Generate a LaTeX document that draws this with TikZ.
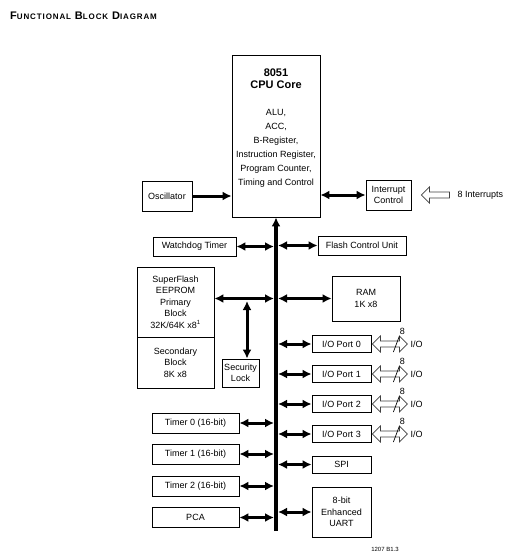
\documentclass[tikz,border=0pt]{standalone}
\usepackage{fontspec}
\setmainfont{Liberation Sans}
\newfontfamily\titlefont[LetterSpace=11]{Liberation Sans}
\usetikzlibrary{arrows.meta}
\tikzset{>={Latex[width=9pt,length=9pt]}}
\tikzset{
  blk/.style={draw, line width=0.8pt, align=center, inner sep=0pt,
    font=\fontsize{9}{11.5}\selectfont},
  link/.style={<->, line width=3pt},
  hollow/.style={draw=black!75, fill=white, line width=0.7pt, line join=miter},
  small/.style={inner sep=0pt, font=\fontsize{9}{11}\selectfont},
}

\begin{document}
\begin{tikzpicture}[x=1pt,y=-1pt]

  \newcommand\BigC[1]{{\fontsize{11}{12}\selectfont #1}}
  \newcommand\SmC[1]{{\fontsize{8}{9}\selectfont #1}}
  \newcommand\ioarrow[1]{%
    \draw[hollow] (#1.east) ++(1,0) -- ++(8,-8) -- ++(0,5) -- ++(19,0)
      -- ++(0,-5) -- ++(8,8) -- ++(-8,8) -- ++(0,-5) -- ++(-19,0)
      -- ++(0,5) -- cycle;
    \draw[line width=0.7pt] ([shift={(22,8)}]#1.east) -- ++(6,-16);
    \node[small] (#1w) at ([shift={(31,-13)}]#1.east) {8};
    \node[small, anchor=west] (#1io) at ([shift={(39,0)}]#1.east) {I/O};
  }

  \useasboundingbox (0,0) rectangle (521,557);

  \node[anchor=base west, inner sep=0pt, font=\titlefont\bfseries] (title) at (10,19)
    {\BigC{F}\SmC{UNCTIONAL} \BigC{B}\SmC{LOCK} \BigC{D}\SmC{IAGRAM}};

  % core
  \node[blk, minimum width=88pt, minimum height=162pt] (cpu) at (276,136) {};
  \node[align=center, inner sep=0pt, font=\bfseries\fontsize{11}{12}\selectfont]
    (cpuname) at (276,79) {8051\\CPU Core};
  \node[align=center, inner sep=0pt, font=\fontsize{9}{14}\selectfont]
    (cpulist) at (276,148) {ALU,\\ACC,\\B-Register,\\Instruction Register,\\Program Counter,\\Timing and Control};

  \node[blk, minimum width=50pt, minimum height=30pt] (osc) at (167,196) {Oscillator};
  \node[blk, minimum width=45pt, minimum height=30pt] (intc) at (388.5,195) {Interrupt\\Control};

  % left side
  \node[blk, minimum width=83pt, minimum height=19pt] (wdt) at (194.5,246.5) {Watchdog Timer};
  \node[blk, minimum width=77pt, minimum height=70pt] (prim) at (175.5,302)
    {SuperFlash\\EEPROM\\Primary\\Block\\32K/64K x8\textsuperscript{1}};
  \node[blk, minimum width=77pt, minimum height=51pt] (sec) at (175.5,362.5) {Secondary\\Block\\8K x8};
  \node[blk, minimum width=37pt, minimum height=28pt] (lock) at (240.5,373) {Security\\Lock};
  \node[blk, minimum width=87pt, minimum height=20pt] (tim0) at (195.5,423) {Timer 0 (16-bit)};
  \node[blk, minimum width=87pt, minimum height=20pt] (tim1) at (195.5,454) {Timer 1 (16-bit)};
  \node[blk, minimum width=87pt, minimum height=20pt] (tim2) at (195.5,486) {Timer 2 (16-bit)};
  \node[blk, minimum width=87pt, minimum height=20pt] (pca) at (195.5,517.5) {PCA};

  % right side
  \node[blk, minimum width=88pt, minimum height=19pt] (fcu) at (362,245.5) {Flash Control Unit};
  \node[blk, minimum width=68pt, minimum height=45pt] (ram) at (366,298.5) {RAM\\1K x8};
  \node[blk, minimum width=59pt, minimum height=17pt] (port0) at (341.5,344) {I/O Port 0};
  \node[blk, minimum width=59pt, minimum height=17pt] (port1) at (341.5,374) {I/O Port 1};
  \node[blk, minimum width=59pt, minimum height=17pt] (port2) at (341.5,404) {I/O Port 2};
  \node[blk, minimum width=59pt, minimum height=17pt] (port3) at (341.5,434) {I/O Port 3};
  \node[blk, minimum width=59pt, minimum height=17pt] (spi) at (341.5,464.5) {SPI};
  \node[blk, minimum width=59pt, minimum height=50pt] (uart) at (341.5,512) {8-bit\\Enhanced\\UART};

  % bus
  \coordinate (busend) at (276,531);
  \draw[->, line width=4pt] (busend) -- (cpu.south);

  \draw[->, line width=3pt] (osc.east) -- (osc.east -| cpu.west);
  \draw[link] (intc.west -| cpu.east) -- (intc.west);

  \draw[link, shorten >=2pt] (wdt.east) -- (wdt.east -| busend);
  \draw[link, shorten >=2pt] (prim.east |- ram.west) -- (ram.west -| busend);
  \draw[link, shorten >=2pt] (tim0.east) -- (tim0.east -| busend);
  \draw[link, shorten >=2pt] (tim1.east) -- (tim1.east -| busend);
  \draw[link, shorten >=2pt] (tim2.east) -- (tim2.east -| busend);
  \draw[link, shorten >=2pt] (pca.east) -- (pca.east -| busend);

  \draw[link, shorten <=2pt] (fcu.west -| busend) -- (fcu.west);
  \draw[link, shorten <=2pt] (ram.west -| busend) -- (ram.west);
  \draw[link, shorten <=2pt] (port0.west -| busend) -- (port0.west);
  \draw[link, shorten <=2pt] (port1.west -| busend) -- (port1.west);
  \draw[link, shorten <=2pt] (port2.west -| busend) -- (port2.west);
  \draw[link, shorten <=2pt] (port3.west -| busend) -- (port3.west);
  \draw[link, shorten <=2pt] (spi.west -| busend) -- (spi.west);
  \draw[link, shorten <=2pt] (uart.west -| busend) -- (uart.west);

  \coordinate (lockjoin) at (247,301);
  \draw[link] (lockjoin) -- (lockjoin |- lock.north);

  % interrupts and ports
  \draw[hollow] ([xshift=10pt]intc.east) -- ++(8,-8) -- ++(0,5) -- ++(20,0)
    -- ++(0,6) -- ++(-20,0) -- ++(0,5) -- cycle;
  \node[small, anchor=west] (irq) at ([xshift=46pt]intc.east) {8 Interrupts};

  \ioarrow{port0}
  \ioarrow{port1}
  \ioarrow{port2}
  \ioarrow{port3}

  \node[inner sep=0pt, font=\fontsize{6}{7}\selectfont] (figid) at (385,549) {1207 B1.3};

\end{tikzpicture}
\end{document}
